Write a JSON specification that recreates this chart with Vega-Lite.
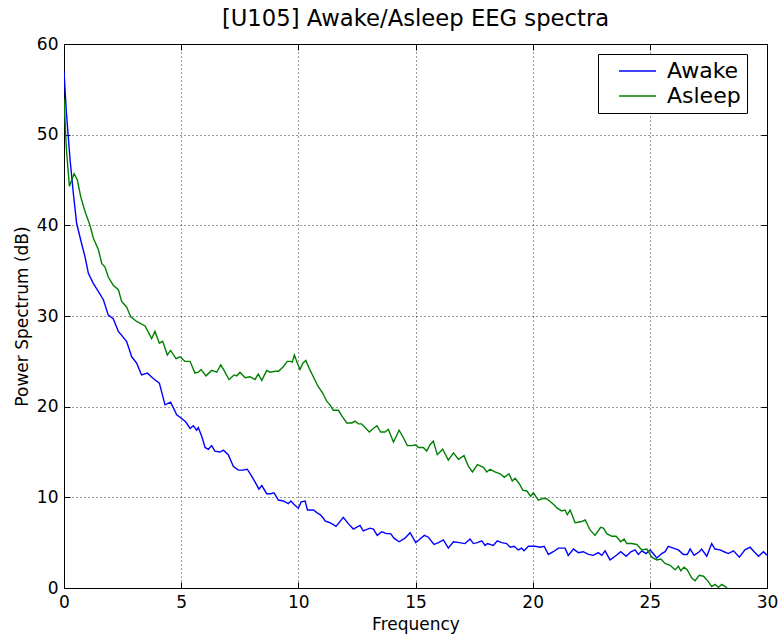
{
  "$schema": "https://vega.github.io/schema/vega-lite/v6.json",
  "width": 703,
  "height": 544,
  "autosize": {"type": "none"},
  "padding": {"left": 64, "top": 44, "right": 14, "bottom": 48},
  "title": {"text": "[U105] Awake/Asleep EEG spectra", "fontSize": 22.7, "fontWeight": "normal", "font": "DejaVu Sans", "color": "black", "offset": 4, "anchor": "middle"},
  "data": {"values": [
    {"f":0,"v":57,"s":"Awake"},{"f":0.1,"v":52.5,"s":"Awake"},{"f":0.26,"v":47.2,"s":"Awake"},{"f":0.4,"v":43.5,"s":"Awake"},{"f":0.54,"v":40.2,"s":"Awake"},{"f":0.75,"v":38.0,"s":"Awake"},{"f":0.9,"v":36.5,"s":"Awake"},{"f":1.04,"v":34.7,"s":"Awake"},{"f":1.25,"v":33.6,"s":"Awake"},{"f":1.47,"v":32.7,"s":"Awake"},{"f":1.68,"v":31.8,"s":"Awake"},{"f":1.89,"v":30.1,"s":"Awake"},{"f":2.1,"v":29.7,"s":"Awake"},{"f":2.32,"v":28.3,"s":"Awake"},{"f":2.67,"v":27.2,"s":"Awake"},{"f":2.89,"v":25.5,"s":"Awake"},{"f":3.1,"v":24.8,"s":"Awake"},{"f":3.31,"v":23.5,"s":"Awake"},{"f":3.56,"v":23.7,"s":"Awake"},{"f":3.81,"v":23.1,"s":"Awake"},{"f":4.07,"v":22.6,"s":"Awake"},{"f":4.31,"v":20.2,"s":"Awake"},{"f":4.55,"v":20.5,"s":"Awake"},{"f":4.81,"v":19.1,"s":"Awake"},{"f":5.02,"v":18.7,"s":"Awake"},{"f":5.2,"v":18.3,"s":"Awake"},{"f":5.38,"v":17.6,"s":"Awake"},{"f":5.52,"v":17.9,"s":"Awake"},{"f":5.66,"v":17.4,"s":"Awake"},{"f":5.73,"v":17.7,"s":"Awake"},{"f":5.88,"v":16.7,"s":"Awake"},{"f":6.02,"v":15.5,"s":"Awake"},{"f":6.16,"v":15.3,"s":"Awake"},{"f":6.3,"v":15.7,"s":"Awake"},{"f":6.44,"v":15.1,"s":"Awake"},{"f":6.66,"v":15.0,"s":"Awake"},{"f":6.8,"v":15.2,"s":"Awake"},{"f":7.01,"v":14.7,"s":"Awake"},{"f":7.23,"v":13.4,"s":"Awake"},{"f":7.44,"v":13.0,"s":"Awake"},{"f":7.62,"v":13.0,"s":"Awake"},{"f":7.82,"v":13.1,"s":"Awake"},{"f":7.97,"v":12.5,"s":"Awake"},{"f":8.15,"v":11.7,"s":"Awake"},{"f":8.32,"v":10.9,"s":"Awake"},{"f":8.44,"v":11.3,"s":"Awake"},{"f":8.65,"v":10.4,"s":"Awake"},{"f":8.82,"v":10.4,"s":"Awake"},{"f":8.96,"v":10.5,"s":"Awake"},{"f":9.15,"v":9.7,"s":"Awake"},{"f":9.36,"v":9.6,"s":"Awake"},{"f":9.57,"v":9.3,"s":"Awake"},{"f":9.68,"v":9.6,"s":"Awake"},{"f":9.82,"v":9.2,"s":"Awake"},{"f":10.0,"v":8.8,"s":"Awake"},{"f":10.12,"v":9.5,"s":"Awake"},{"f":10.29,"v":9.6,"s":"Awake"},{"f":10.39,"v":8.6,"s":"Awake"},{"f":10.64,"v":8.6,"s":"Awake"},{"f":10.85,"v":8.2,"s":"Awake"},{"f":10.93,"v":8.1,"s":"Awake"},{"f":11.07,"v":7.7,"s":"Awake"},{"f":11.14,"v":7.4,"s":"Awake"},{"f":11.35,"v":7.2,"s":"Awake"},{"f":11.61,"v":6.8,"s":"Awake"},{"f":11.92,"v":7.8,"s":"Awake"},{"f":12.13,"v":7.1,"s":"Awake"},{"f":12.35,"v":6.5,"s":"Awake"},{"f":12.63,"v":6.9,"s":"Awake"},{"f":12.77,"v":6.3,"s":"Awake"},{"f":13.06,"v":6.6,"s":"Awake"},{"f":13.2,"v":6.5,"s":"Awake"},{"f":13.37,"v":5.8,"s":"Awake"},{"f":13.56,"v":6.2,"s":"Awake"},{"f":13.77,"v":6.0,"s":"Awake"},{"f":13.94,"v":6.0,"s":"Awake"},{"f":14.08,"v":5.5,"s":"Awake"},{"f":14.3,"v":5.1,"s":"Awake"},{"f":14.55,"v":5.5,"s":"Awake"},{"f":14.77,"v":6.1,"s":"Awake"},{"f":15.01,"v":5.0,"s":"Awake"},{"f":15.19,"v":5.4,"s":"Awake"},{"f":15.38,"v":5.8,"s":"Awake"},{"f":15.55,"v":5.6,"s":"Awake"},{"f":15.79,"v":4.8,"s":"Awake"},{"f":15.98,"v":5.0,"s":"Awake"},{"f":16.19,"v":5.3,"s":"Awake"},{"f":16.4,"v":4.4,"s":"Awake"},{"f":16.62,"v":5.1,"s":"Awake"},{"f":16.87,"v":5.0,"s":"Awake"},{"f":17.11,"v":4.9,"s":"Awake"},{"f":17.33,"v":5.4,"s":"Awake"},{"f":17.47,"v":4.9,"s":"Awake"},{"f":17.64,"v":5.0,"s":"Awake"},{"f":17.83,"v":5.2,"s":"Awake"},{"f":17.97,"v":4.7,"s":"Awake"},{"f":18.07,"v":4.9,"s":"Awake"},{"f":18.32,"v":4.7,"s":"Awake"},{"f":18.49,"v":5.2,"s":"Awake"},{"f":18.68,"v":5.0,"s":"Awake"},{"f":18.89,"v":4.9,"s":"Awake"},{"f":19.04,"v":4.5,"s":"Awake"},{"f":19.21,"v":4.6,"s":"Awake"},{"f":19.39,"v":4.2,"s":"Awake"},{"f":19.53,"v":4.4,"s":"Awake"},{"f":19.63,"v":4.1,"s":"Awake"},{"f":19.82,"v":4.6,"s":"Awake"},{"f":20.1,"v":4.6,"s":"Awake"},{"f":20.32,"v":4.5,"s":"Awake"},{"f":20.49,"v":4.6,"s":"Awake"},{"f":20.67,"v":3.7,"s":"Awake"},{"f":20.88,"v":4.0,"s":"Awake"},{"f":21.1,"v":4.4,"s":"Awake"},{"f":21.38,"v":4.4,"s":"Awake"},{"f":21.52,"v":3.6,"s":"Awake"},{"f":21.74,"v":4.3,"s":"Awake"},{"f":21.95,"v":3.9,"s":"Awake"},{"f":22.16,"v":4.0,"s":"Awake"},{"f":22.38,"v":3.7,"s":"Awake"},{"f":22.59,"v":3.6,"s":"Awake"},{"f":22.8,"v":3.9,"s":"Awake"},{"f":22.95,"v":3.6,"s":"Awake"},{"f":23.09,"v":4.1,"s":"Awake"},{"f":23.3,"v":3.1,"s":"Awake"},{"f":23.52,"v":3.5,"s":"Awake"},{"f":23.76,"v":4.0,"s":"Awake"},{"f":23.99,"v":3.5,"s":"Awake"},{"f":24.19,"v":4.0,"s":"Awake"},{"f":24.37,"v":4.2,"s":"Awake"},{"f":24.51,"v":3.7,"s":"Awake"},{"f":24.66,"v":4.1,"s":"Awake"},{"f":24.84,"v":3.8,"s":"Awake"},{"f":25.01,"v":4.2,"s":"Awake"},{"f":25.18,"v":3.7,"s":"Awake"},{"f":25.3,"v":3.3,"s":"Awake"},{"f":25.51,"v":3.8,"s":"Awake"},{"f":25.65,"v":4.0,"s":"Awake"},{"f":25.79,"v":4.6,"s":"Awake"},{"f":26.0,"v":4.4,"s":"Awake"},{"f":26.22,"v":4.2,"s":"Awake"},{"f":26.43,"v":3.7,"s":"Awake"},{"f":26.6,"v":3.7,"s":"Awake"},{"f":26.72,"v":4.3,"s":"Awake"},{"f":26.89,"v":3.6,"s":"Awake"},{"f":27.11,"v":4.0,"s":"Awake"},{"f":27.21,"v":4.3,"s":"Awake"},{"f":27.43,"v":3.5,"s":"Awake"},{"f":27.64,"v":4.9,"s":"Awake"},{"f":27.78,"v":4.3,"s":"Awake"},{"f":27.99,"v":4.2,"s":"Awake"},{"f":28.17,"v":4.0,"s":"Awake"},{"f":28.35,"v":3.8,"s":"Awake"},{"f":28.57,"v":4.1,"s":"Awake"},{"f":28.82,"v":3.4,"s":"Awake"},{"f":29.06,"v":4.2,"s":"Awake"},{"f":29.28,"v":4.5,"s":"Awake"},{"f":29.45,"v":4.0,"s":"Awake"},{"f":29.64,"v":3.5,"s":"Awake"},{"f":29.85,"v":4.0,"s":"Awake"},{"f":30.0,"v":3.6,"s":"Awake"},
    {"f":0,"v":54,"s":"Asleep"},{"f":0.1,"v":48.5,"s":"Asleep"},{"f":0.23,"v":44.3,"s":"Asleep"},{"f":0.43,"v":45.7,"s":"Asleep"},{"f":0.57,"v":45.0,"s":"Asleep"},{"f":0.71,"v":43.2,"s":"Asleep"},{"f":0.9,"v":41.5,"s":"Asleep"},{"f":1.11,"v":40.0,"s":"Asleep"},{"f":1.25,"v":38.6,"s":"Asleep"},{"f":1.47,"v":37.3,"s":"Asleep"},{"f":1.61,"v":35.8,"s":"Asleep"},{"f":1.75,"v":35.4,"s":"Asleep"},{"f":1.89,"v":34.3,"s":"Asleep"},{"f":2.1,"v":33.4,"s":"Asleep"},{"f":2.32,"v":32.9,"s":"Asleep"},{"f":2.46,"v":31.6,"s":"Asleep"},{"f":2.67,"v":31.0,"s":"Asleep"},{"f":2.85,"v":29.9,"s":"Asleep"},{"f":3.1,"v":29.4,"s":"Asleep"},{"f":3.46,"v":28.9,"s":"Asleep"},{"f":3.74,"v":27.5,"s":"Asleep"},{"f":3.88,"v":28.3,"s":"Asleep"},{"f":4.07,"v":27.0,"s":"Asleep"},{"f":4.21,"v":27.2,"s":"Asleep"},{"f":4.41,"v":25.7,"s":"Asleep"},{"f":4.55,"v":26.2,"s":"Asleep"},{"f":4.78,"v":25.3,"s":"Asleep"},{"f":4.95,"v":25.5,"s":"Asleep"},{"f":5.16,"v":25.0,"s":"Asleep"},{"f":5.38,"v":25.0,"s":"Asleep"},{"f":5.59,"v":23.7,"s":"Asleep"},{"f":5.73,"v":23.8,"s":"Asleep"},{"f":5.85,"v":24.1,"s":"Asleep"},{"f":6.06,"v":23.4,"s":"Asleep"},{"f":6.3,"v":24.0,"s":"Asleep"},{"f":6.52,"v":23.8,"s":"Asleep"},{"f":6.69,"v":24.6,"s":"Asleep"},{"f":6.83,"v":24.0,"s":"Asleep"},{"f":7.04,"v":23.0,"s":"Asleep"},{"f":7.26,"v":23.5,"s":"Asleep"},{"f":7.37,"v":23.4,"s":"Asleep"},{"f":7.51,"v":23.8,"s":"Asleep"},{"f":7.73,"v":23.2,"s":"Asleep"},{"f":7.94,"v":23.3,"s":"Asleep"},{"f":8.15,"v":23.0,"s":"Asleep"},{"f":8.29,"v":23.6,"s":"Asleep"},{"f":8.44,"v":22.9,"s":"Asleep"},{"f":8.65,"v":24.0,"s":"Asleep"},{"f":8.79,"v":23.8,"s":"Asleep"},{"f":9.01,"v":23.9,"s":"Asleep"},{"f":9.15,"v":23.9,"s":"Asleep"},{"f":9.36,"v":24.4,"s":"Asleep"},{"f":9.53,"v":25.0,"s":"Asleep"},{"f":9.68,"v":25.0,"s":"Asleep"},{"f":9.74,"v":24.9,"s":"Asleep"},{"f":9.83,"v":25.7,"s":"Asleep"},{"f":9.96,"v":24.8,"s":"Asleep"},{"f":10.07,"v":24.1,"s":"Asleep"},{"f":10.19,"v":24.8,"s":"Asleep"},{"f":10.32,"v":25.1,"s":"Asleep"},{"f":10.47,"v":24.2,"s":"Asleep"},{"f":10.64,"v":23.3,"s":"Asleep"},{"f":10.85,"v":22.2,"s":"Asleep"},{"f":11.04,"v":21.5,"s":"Asleep"},{"f":11.21,"v":20.6,"s":"Asleep"},{"f":11.35,"v":20.2,"s":"Asleep"},{"f":11.49,"v":19.6,"s":"Asleep"},{"f":11.71,"v":19.6,"s":"Asleep"},{"f":11.85,"v":19.0,"s":"Asleep"},{"f":12.07,"v":18.2,"s":"Asleep"},{"f":12.28,"v":18.2,"s":"Asleep"},{"f":12.42,"v":18.4,"s":"Asleep"},{"f":12.56,"v":18.1,"s":"Asleep"},{"f":12.7,"v":18.1,"s":"Asleep"},{"f":12.85,"v":17.7,"s":"Asleep"},{"f":13.03,"v":17.2,"s":"Asleep"},{"f":13.2,"v":17.6,"s":"Asleep"},{"f":13.35,"v":17.9,"s":"Asleep"},{"f":13.52,"v":17.2,"s":"Asleep"},{"f":13.7,"v":17.2,"s":"Asleep"},{"f":13.84,"v":17.5,"s":"Asleep"},{"f":14.06,"v":16.1,"s":"Asleep"},{"f":14.3,"v":17.4,"s":"Asleep"},{"f":14.48,"v":16.6,"s":"Asleep"},{"f":14.65,"v":15.7,"s":"Asleep"},{"f":14.84,"v":15.7,"s":"Asleep"},{"f":15.01,"v":15.8,"s":"Asleep"},{"f":15.12,"v":15.5,"s":"Asleep"},{"f":15.33,"v":15.5,"s":"Asleep"},{"f":15.48,"v":15.1,"s":"Asleep"},{"f":15.62,"v":15.8,"s":"Asleep"},{"f":15.76,"v":16.2,"s":"Asleep"},{"f":15.93,"v":14.7,"s":"Asleep"},{"f":16.16,"v":15.3,"s":"Asleep"},{"f":16.4,"v":14.1,"s":"Asleep"},{"f":16.62,"v":14.9,"s":"Asleep"},{"f":16.83,"v":14.2,"s":"Asleep"},{"f":17.07,"v":14.6,"s":"Asleep"},{"f":17.26,"v":13.4,"s":"Asleep"},{"f":17.43,"v":12.8,"s":"Asleep"},{"f":17.64,"v":13.6,"s":"Asleep"},{"f":17.9,"v":13.3,"s":"Asleep"},{"f":18.04,"v":12.8,"s":"Asleep"},{"f":18.18,"v":13.1,"s":"Asleep"},{"f":18.39,"v":12.8,"s":"Asleep"},{"f":18.61,"v":12.6,"s":"Asleep"},{"f":18.79,"v":12.2,"s":"Asleep"},{"f":18.99,"v":12.6,"s":"Asleep"},{"f":19.13,"v":11.8,"s":"Asleep"},{"f":19.25,"v":12.1,"s":"Asleep"},{"f":19.43,"v":11.5,"s":"Asleep"},{"f":19.58,"v":10.8,"s":"Asleep"},{"f":19.75,"v":10.7,"s":"Asleep"},{"f":19.92,"v":10.1,"s":"Asleep"},{"f":20.03,"v":10.5,"s":"Asleep"},{"f":20.24,"v":9.7,"s":"Asleep"},{"f":20.46,"v":9.9,"s":"Asleep"},{"f":20.63,"v":9.8,"s":"Asleep"},{"f":20.86,"v":9.3,"s":"Asleep"},{"f":21.05,"v":8.8,"s":"Asleep"},{"f":21.24,"v":8.5,"s":"Asleep"},{"f":21.38,"v":8.6,"s":"Asleep"},{"f":21.48,"v":8.1,"s":"Asleep"},{"f":21.6,"v":8.6,"s":"Asleep"},{"f":21.81,"v":7.2,"s":"Asleep"},{"f":22.05,"v":7.3,"s":"Asleep"},{"f":22.24,"v":7.5,"s":"Asleep"},{"f":22.45,"v":6.4,"s":"Asleep"},{"f":22.66,"v":5.8,"s":"Asleep"},{"f":22.9,"v":6.7,"s":"Asleep"},{"f":23.02,"v":6.6,"s":"Asleep"},{"f":23.16,"v":6.0,"s":"Asleep"},{"f":23.38,"v":5.7,"s":"Asleep"},{"f":23.56,"v":5.7,"s":"Asleep"},{"f":23.76,"v":5.1,"s":"Asleep"},{"f":23.9,"v":5.4,"s":"Asleep"},{"f":24.02,"v":4.9,"s":"Asleep"},{"f":24.23,"v":4.9,"s":"Asleep"},{"f":24.44,"v":4.8,"s":"Asleep"},{"f":24.66,"v":4.2,"s":"Asleep"},{"f":24.87,"v":4.3,"s":"Asleep"},{"f":25.08,"v":3.4,"s":"Asleep"},{"f":25.3,"v":3.1,"s":"Asleep"},{"f":25.47,"v":3.2,"s":"Asleep"},{"f":25.65,"v":2.7,"s":"Asleep"},{"f":25.86,"v":2.5,"s":"Asleep"},{"f":26.08,"v":2.0,"s":"Asleep"},{"f":26.22,"v":2.4,"s":"Asleep"},{"f":26.32,"v":1.9,"s":"Asleep"},{"f":26.46,"v":2.3,"s":"Asleep"},{"f":26.6,"v":2.0,"s":"Asleep"},{"f":26.79,"v":1.1,"s":"Asleep"},{"f":26.93,"v":0.8,"s":"Asleep"},{"f":27.11,"v":1.4,"s":"Asleep"},{"f":27.29,"v":1.3,"s":"Asleep"},{"f":27.5,"v":0.7,"s":"Asleep"},{"f":27.64,"v":0.15,"s":"Asleep"},{"f":27.78,"v":0.4,"s":"Asleep"},{"f":27.93,"v":0.08,"s":"Asleep"},{"f":28.07,"v":0.4,"s":"Asleep"},{"f":28.25,"v":0.1,"s":"Asleep"},{"f":28.5,"v":-0.6,"s":"Asleep"},{"f":29.0,"v":-1.2,"s":"Asleep"},{"f":29.5,"v":-1.8,"s":"Asleep"},{"f":30.0,"v":-2.3,"s":"Asleep"}
  ]},
  "layer": [
    {
      "mark": {"type": "line", "strokeWidth": 1.4, "clip": true},
      "encoding": {
        "x": {"field": "f", "type": "quantitative", "scale": {"domain": [0, 30], "nice": false, "zero": false},
              "axis": {"title": "Frequency", "values": [0, 5, 10, 15, 20, 25, 30], "labelPadding": 12, "titlePadding": 6, "labelFlush": false, "labelOverlap": false}},
        "y": {"field": "v", "type": "quantitative", "scale": {"domain": [0, 60], "nice": false, "zero": false},
              "axis": {"title": "Power Spectrum (dB)", "values": [0, 10, 20, 30, 40, 50, 60], "labelPadding": 12, "titlePadding": 5, "labelFlush": false, "labelOverlap": false}},
        "color": {"field": "s", "type": "nominal", "sort": ["Awake", "Asleep"],
                  "scale": {"domain": ["Awake", "Asleep"], "range": ["#0000ff", "#008000"]},
                  "legend": {"title": null, "orient": "none", "legendX": 534, "legendY": 10, "strokeColor": "black", "fillColor": "white", "padding": 6, "cornerRadius": 0, "symbolType": "M0.571,0H5.857", "symbolSize": 196, "symbolStrokeWidth": 1.4, "labelOffset": 41, "labelFontSize": 22, "labelFont": "DejaVu Sans", "labelColor": "black", "rowPadding": 3}}
      }
    },
    {
      "mark": {"type": "line", "strokeOpacity": 0, "clip": true},
      "encoding": {
        "x": {"field": "f", "type": "quantitative", "axis": {"orient": "top", "labels": false, "grid": false, "title": null, "values": [0, 5, 10, 15, 20, 25, 30]}},
        "y": {"field": "v", "type": "quantitative", "axis": {"orient": "right", "labels": false, "grid": false, "title": null, "values": [0, 10, 20, 30, 40, 50, 60]}},
        "detail": {"field": "s", "type": "nominal"}
      }
    }
  ],
  "resolve": {"axis": {"x": "independent", "y": "independent"}},
  "config": {
    "font": "DejaVu Sans",
    "view": {"stroke": "black", "strokeWidth": 1},
    "axis": {"grid": true, "gridColor": "black", "gridDash": [1, 3], "gridWidth": 0.8, "gridOpacity": 1, "domain": false, "ticks": true, "tickColor": "black", "tickSize": -6, "tickWidth": 1, "labelFontSize": 17, "labelColor": "black", "labelFont": "DejaVu Sans", "titleFontSize": 17, "titleFontWeight": "normal", "titleColor": "black", "titleFont": "DejaVu Sans"}
  }
}
